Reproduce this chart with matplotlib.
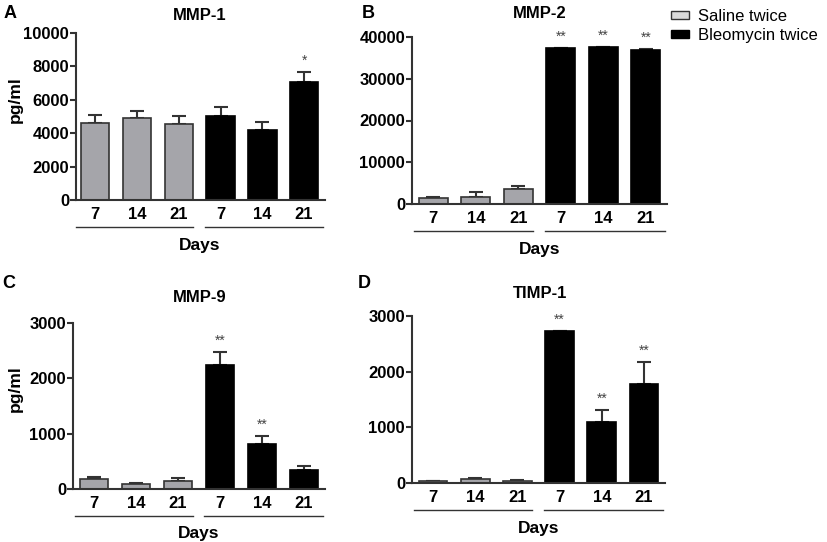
import numpy as np
import matplotlib
matplotlib.use('Agg')
from matplotlib import pyplot as plt
from matplotlib.patches import Patch
import matplotlib.transforms as mtransforms

plt.rcParams['font.family'] = ['Liberation Sans', 'DejaVu Sans']

days = ['7', '14', '21', '7', '14', '21']
groups = ['Saline twice', 'Bleomycin twice']

mmp1 = [4640, 4900, 4560, 5040, 4180, 7040]
mmp1_err = [460, 400, 480, 520, 520, 640]
mmp1_sig = ['', '', '', '', '', '*']

mmp2 = [1500, 1750, 3670, 37370, 37600, 36800]
mmp2_err = [80, 1120, 560, 0, 0, 250]
mmp2_sig = ['', '', '', '**', '**', '**']

mmp9 = [186, 90, 150, 2244, 816, 348]
mmp9_err = [30, 18, 54, 234, 138, 60]
mmp9_sig = ['', '', '', '**', '**', '']

timp1 = [30, 78, 42, 2725, 1088, 1787]
timp1_err = [10, 18, 8, 0, 227, 395]
timp1_sig = ['', '', '', '**', '**', '**']

W, H = 827, 542
GRAY = '#a5a5aa'
DARK = '#333333'


def px(x, y):
    return x / W, 1 - y / H


def box(left, right, top, bottom):
    return [left / W, 1 - bottom / H, (right - left) / W, (bottom - top) / H]


fig = plt.figure(figsize=(W / 100, H / 100), dpi=100)


def panel(rect, vals, errs, sig, ymax, step, title, letter, letter_xy, title_xy,
          ylabel_xy=None, xlim=(-0.5, 5.5)):
    ax = fig.add_axes(rect)
    x = np.arange(len(vals))
    colors = [GRAY] * 3 + ['black'] * 3
    edges = [DARK] * 3 + ['black'] * 3
    ax.errorbar(x, vals, yerr=[np.zeros(len(errs)), errs], fmt='none',
                ecolor=DARK, elinewidth=1.5, capsize=5, capthick=1.5, zorder=1)
    ax.bar(x, vals, width=0.68, color=colors, edgecolor=edges, linewidth=1.2, zorder=2)
    for xi, v, e, s in zip(x, vals, errs, sig):
        if s:
            ax.annotate(s, (xi, v + e), xytext=(0, 8), textcoords='offset points',
                        ha='center', va='center', fontsize=10, color='#444444')
    ax.set_xlim(*xlim)
    ax.set_ylim(0, ymax)
    ax.set_yticks(np.arange(0, ymax + 1, step))
    ax.set_xticks(x)
    ax.set_xticklabels(days)
    ax.tick_params(axis='x', length=0, pad=5, labelsize=12)
    ax.tick_params(axis='y', length=4, width=1.5, color=DARK, pad=1, labelsize=12)
    for lab in ax.get_xticklabels() + ax.get_yticklabels():
        lab.set_fontweight('bold')
    for sp in ['top', 'right']:
        ax.spines[sp].set_visible(False)
    for sp in ['left', 'bottom']:
        ax.spines[sp].set_linewidth(1.5)
        ax.spines[sp].set_color(DARK)
    trans = mtransforms.blended_transform_factory(ax.transData, ax.transAxes)
    for x0, x1 in [(-0.45, 2.35), (2.62, 5.45)]:
        ax.plot([x0, x1], [-0.16, -0.16], transform=trans, color=DARK, lw=1, clip_on=False)
    ax.text(2.5, -0.27, 'Days', transform=trans, ha='center', va='center',
            fontsize=12.5, fontweight='bold')
    fig.text(*px(*title_xy), title, ha='center', va='center', fontsize=12, fontweight='bold')
    fig.text(*px(*letter_xy), letter, ha='center', va='center', fontsize=13, fontweight='bold')
    if ylabel_xy:
        fig.text(*px(*ylabel_xy), 'pg/ml', ha='center', va='center', rotation=90,
                 fontsize=12.5, fontweight='bold')
    return ax


panel(box(76, 325, 33, 200), mmp1, mmp1_err, mmp1_sig, 10000, 2000, 'MMP-1', 'A',
      (10, 13), (200, 15), ylabel_xy=(15, 100), xlim=(-0.46, 5.5))
panel(box(412, 667, 37, 204), mmp2, mmp2_err, mmp2_sig, 40000, 10000, 'MMP-2', 'B',
      (368, 13), (540, 13))
panel(box(73, 325, 323, 489), mmp9, mmp9_err, mmp9_sig, 3000, 1000, 'MMP-9', 'C',
      (9, 283), (200, 297), ylabel_xy=(15, 389))
panel(box(412, 665, 316, 483), timp1, timp1_err, timp1_sig, 3000, 1000, 'TIMP-1', 'D',
      (364, 283), (540, 293))

handles = [Patch(facecolor='#d9d9d9', edgecolor=DARK, linewidth=1),
           Patch(facecolor='black', edgecolor='black')]
fig.legend(handles, groups, loc='upper left', bbox_to_anchor=px(671, 9),
           frameon=False, fontsize=12, borderpad=0, borderaxespad=0,
           handlelength=1.1, handleheight=0.4, handletextpad=0.5, labelspacing=0.25)

fig.savefig('out.png', dpi=100)
